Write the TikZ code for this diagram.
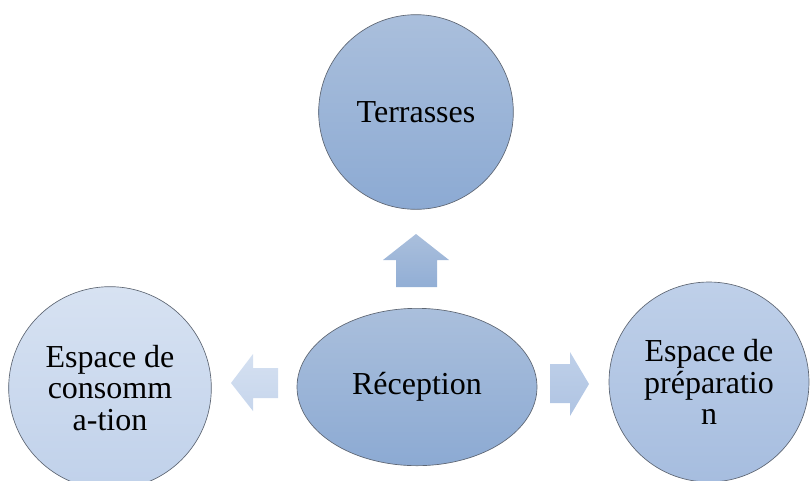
\documentclass[tikz,border=0pt]{standalone}
\usepackage{fontspec}
\setmainfont{Liberation Serif}
\usetikzlibrary{shapes.geometric}
\definecolor{rim}{HTML}{5E6673}
\definecolor{midtop}{HTML}{AABFDC}
\definecolor{midbot}{HTML}{8CAAD3}
\definecolor{pretop}{HTML}{BFD0E9}
\definecolor{prebot}{HTML}{A6BDDF}
\definecolor{contop}{HTML}{D7E2F2}
\definecolor{conbot}{HTML}{C0D1EA}

\begin{document}
\begin{tikzpicture}[
  x=0.75pt, y=-0.75pt,
  every node/.style={align=center, font=\fontsize{24}{23.5}\selectfont},
  bubble/.style={circle, draw=rim, line width=0.5pt, inner sep=0pt},
  hub/.style={ellipse, draw=rim, line width=0.5pt, inner sep=0pt,
              minimum width=180pt, minimum height=118pt,
              top color=midtop, bottom color=midbot},
  blockarr/.style={draw=none}
]
  \useasboundingbox (0,0) rectangle (811,480);

  \node[bubble, minimum size=146pt, top color=midtop, bottom color=midbot] (terr) at (416,112) {Terrasses};
  \node[hub] (recep) at (417,387) {Réception};
  \node[bubble, minimum size=152pt, top color=contop, bottom color=conbot] (conso) at (110,388) {Espace de\\consomm\\a-tion};
  \node[bubble, minimum size=150pt, top color=pretop, bottom color=prebot] (prep) at (709,382) {Espace de\\préparatio\\n};

  % block arrows out of the hub
  \path[blockarr, top color=midtop, bottom color=midbot!95!white]
    (416,234) -- (449,260) -- (437,260) -- (437,287) -- (396,287) -- (396,260) -- (383,260) -- cycle;
  \path[blockarr, top color=contop!95!midtop, bottom color=conbot!90!white]
    (231,383) -- (253,354) -- (253,368) -- (278,368) -- (278,398) -- (253,398) -- (253,411) -- cycle;
  \path[blockarr, top color=pretop, bottom color=prebot!90!white]
    (589,384) -- (570,352) -- (570,364) -- (550,364) -- (550,403) -- (570,403) -- (570,416) -- cycle;
\end{tikzpicture}
\end{document}
